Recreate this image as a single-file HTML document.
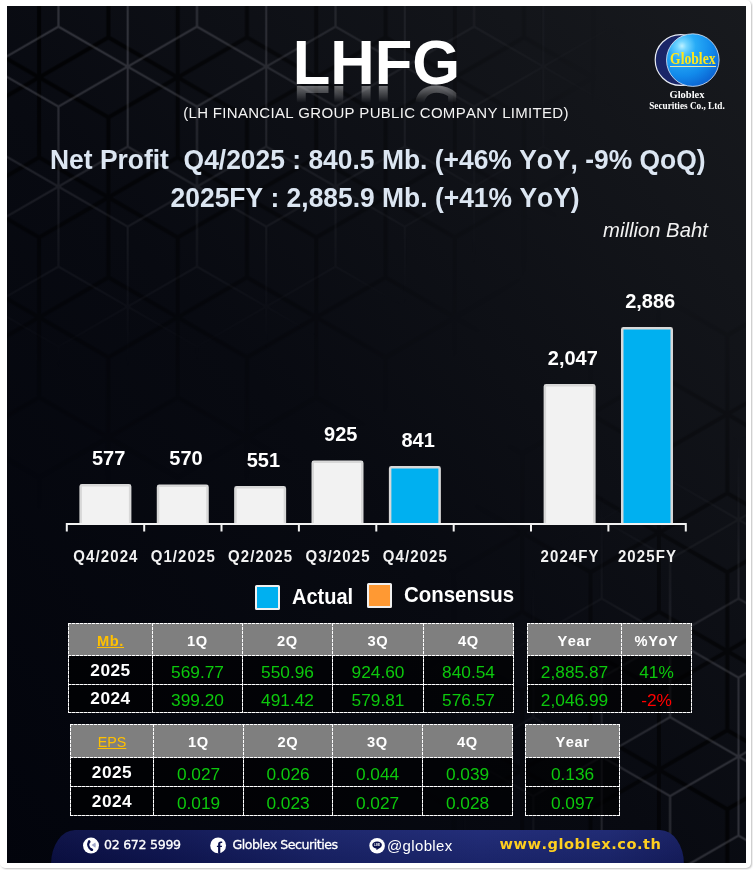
<!DOCTYPE html>
<html lang="en">
<head>
<meta charset="utf-8">
<title>LHFG Net Profit Q4/2025</title>
<style>
html,body{margin:0;padding:0;}
body{width:753px;height:870px;background:#fff;position:relative;overflow:hidden;font-family:"Liberation Sans",sans-serif;font-kerning:none;}
#card{position:absolute;left:0;top:0;width:751px;height:868px;background:#fff;border-radius:5px;box-shadow:1px 1px 2px rgba(0,0,0,.25);}
#panel{position:absolute;left:7px;top:6px;width:739px;height:857px;background:#080a10;overflow:hidden;}
#bg{position:absolute;left:0;top:0;}
#fg{position:absolute;left:0;top:0;width:739px;height:857px;will-change:transform;}
.abs{position:absolute;white-space:nowrap;}
#title{left:0;width:739px;text-align:center;font-weight:bold;color:#fff;font-size:61.5px;line-height:62px;transform:scaleY(1.035);transform-origin:50% 52.3px;}
#refl{left:0;width:739px;text-align:center;font-weight:bold;color:#fff;font-size:61.5px;line-height:62px;transform:translateY(1px) scaleY(-1.035);transform-origin:50% 52.3px;-webkit-mask-image:linear-gradient(0deg,rgba(0,0,0,.42) 15.6%,rgba(0,0,0,0) 43%);mask-image:linear-gradient(0deg,rgba(0,0,0,.42) 15.6%,rgba(0,0,0,0) 43%);}
#sub{color:#f4f4f4;font-size:15px;line-height:16px;letter-spacing:.3px;}
.hl{color:#dce6f2;font-weight:bold;font-size:26.43px;line-height:28px;transform:scaleY(1.035);}
#unit{color:#f2f2f2;font-style:italic;font-size:20.3px;line-height:22px;}
.val{position:absolute;color:#fff;font-weight:bold;font-size:20px;line-height:20px;text-align:center;width:90px;white-space:nowrap;transform:scaleY(1.045);}
.xl{position:absolute;color:#f2f2f2;font-weight:bold;font-size:15px;line-height:16px;text-align:center;width:90px;letter-spacing:1.1px;white-space:nowrap;transform:scaleY(1.13);}
.lg{position:absolute;color:#fff;font-weight:bold;font-size:20px;line-height:22px;white-space:nowrap;transform:scaleY(1.07);transform-origin:50% 75%;}
.sw{position:absolute;box-sizing:border-box;width:25px;height:25px;border:2px solid #f0f0f0;border-radius:1.5px;}
.tb{position:absolute;display:grid;gap:1px;padding:1px;}
.tb i{position:absolute;display:block;}
.tb i.hz{height:1px;left:0;right:0;background:repeating-linear-gradient(90deg,#fff 0,#fff 3px,rgba(255,255,255,.6) 3px,rgba(255,255,255,.6) 4px);}
.tb i.vt{width:1px;top:0;bottom:0;background:repeating-linear-gradient(180deg,#fff 0,#fff 3px,rgba(255,255,255,.6) 3px,rgba(255,255,255,.6) 4px);}
.tb div{background:rgba(0,0,0,.6);color:#0cc80c;font-size:17.3px;display:flex;align-items:center;justify-content:center;white-space:nowrap;box-sizing:border-box;padding-top:4.5px;}
.tb .h{background:#7f7f7f;color:#fff;font-weight:bold;font-size:14.67px;letter-spacing:.6px;padding-top:2.5px;}
.tb .y{color:#fff;font-weight:bold;font-size:17.3px;letter-spacing:.5px;padding-top:0;}
.tb .k{color:#ffc000;text-decoration:underline;}
.tb .e{font-weight:normal;letter-spacing:0;font-size:14.3px;}
.tb .r{color:#ff0000;}
#foot{position:absolute;border-radius:24px 24px 0 0 / 34px 34px 0 0;background:linear-gradient(180deg,rgba(255,255,255,.03),rgba(0,0,0,.12)),linear-gradient(90deg,#090e44 0%,#0d1452 18%,#172168 42%,#1c2774 68%,#1a2570 88%,#141c60 100%);}
.ft{position:absolute;color:#fff;font-family:"DejaVu Sans","Liberation Sans",sans-serif;font-size:12.6px;line-height:14px;white-space:nowrap;letter-spacing:-.3px;-webkit-text-stroke:.3px #fff;}
</style>
</head>
<body>
<div id="card"></div>
<div id="panel">
<svg id="bg" width="739" height="857" viewBox="7 6 739 857">
<defs>
<linearGradient id="base" x1="0" y1="1" x2="1" y2="0"><stop offset="0" stop-color="#02040c"/><stop offset=".45" stop-color="#080a11"/><stop offset="1" stop-color="#181a1e"/></linearGradient>
<radialGradient id="f1" gradientUnits="userSpaceOnUse" cx="0" cy="0" r="1" gradientTransform="translate(90 30) scale(540 340)"><stop offset="0" stop-color="#fff"/><stop offset=".3" stop-color="#fff" stop-opacity=".8"/><stop offset=".55" stop-color="#fff" stop-opacity=".4"/><stop offset=".85" stop-color="#fff" stop-opacity=".12"/><stop offset="1" stop-color="#fff" stop-opacity="0"/></radialGradient>
<radialGradient id="f2" gradientUnits="userSpaceOnUse" cx="0" cy="0" r="1" gradientTransform="translate(780 830) scale(330 400)"><stop offset="0" stop-color="#fff"/><stop offset=".45" stop-color="#fff" stop-opacity=".8"/><stop offset=".75" stop-color="#fff" stop-opacity=".25"/><stop offset="1" stop-color="#fff" stop-opacity="0"/></radialGradient>
<radialGradient id="f1d" gradientUnits="userSpaceOnUse" cx="0" cy="0" r="1" gradientTransform="translate(60 30) scale(540 480)"><stop offset="0" stop-color="#fff"/><stop offset=".5" stop-color="#fff" stop-opacity=".55"/><stop offset="1" stop-color="#fff" stop-opacity="0"/></radialGradient>
<radialGradient id="f2d" gradientUnits="userSpaceOnUse" cx="0" cy="0" r="1" gradientTransform="translate(780 810) scale(370 540)"><stop offset="0" stop-color="#fff"/><stop offset=".5" stop-color="#fff" stop-opacity=".6"/><stop offset="1" stop-color="#fff" stop-opacity="0"/></radialGradient>
<mask id="m1d"><rect x="0" y="0" width="753" height="870" fill="url(#f1d)"/></mask>
<mask id="m2d"><rect x="0" y="0" width="753" height="870" fill="url(#f2d)"/></mask>
<mask id="m1"><rect x="0" y="0" width="753" height="870" fill="url(#f1)"/></mask>
<mask id="m2"><rect x="0" y="0" width="753" height="870" fill="url(#f2)"/></mask>
<pattern id="h1" patternUnits="userSpaceOnUse" width="138.56" height="240" patternTransform="translate(127.7 66.6)"><path d="M0.00 0.00l0.00 -80.00M0.00 0.00l0.00 80.00M0.00 0.00l69.28 40.00M0.00 0.00l69.28 -40.00M0.00 0.00l-69.28 40.00M0.00 0.00l-69.28 -40.00M138.56 0.00l0.00 -80.00M138.56 0.00l0.00 80.00M138.56 0.00l69.28 40.00M138.56 0.00l69.28 -40.00M138.56 0.00l-69.28 40.00M138.56 0.00l-69.28 -40.00M0.00 240.00l0.00 -80.00M0.00 240.00l0.00 80.00M0.00 240.00l69.28 40.00M0.00 240.00l69.28 -40.00M0.00 240.00l-69.28 40.00M0.00 240.00l-69.28 -40.00M138.56 240.00l0.00 -80.00M138.56 240.00l0.00 80.00M138.56 240.00l69.28 40.00M138.56 240.00l69.28 -40.00M138.56 240.00l-69.28 40.00M138.56 240.00l-69.28 -40.00M69.28 120.00l0.00 -80.00M69.28 120.00l0.00 80.00M69.28 120.00l69.28 40.00M69.28 120.00l69.28 -40.00M69.28 120.00l-69.28 40.00M69.28 120.00l-69.28 -40.00" stroke="#9a9aa6" stroke-opacity=".27" stroke-width="2.2" fill="none"/></pattern>
<pattern id="s1" patternUnits="userSpaceOnUse" width="138.56" height="240" patternTransform="translate(177.7 77.4)"><path d="M0.00 0.00l0.00 -80.00M0.00 0.00l0.00 80.00M0.00 0.00l69.28 40.00M0.00 0.00l69.28 -40.00M0.00 0.00l-69.28 40.00M0.00 0.00l-69.28 -40.00M138.56 0.00l0.00 -80.00M138.56 0.00l0.00 80.00M138.56 0.00l69.28 40.00M138.56 0.00l69.28 -40.00M138.56 0.00l-69.28 40.00M138.56 0.00l-69.28 -40.00M0.00 240.00l0.00 -80.00M0.00 240.00l0.00 80.00M0.00 240.00l69.28 40.00M0.00 240.00l69.28 -40.00M0.00 240.00l-69.28 40.00M0.00 240.00l-69.28 -40.00M138.56 240.00l0.00 -80.00M138.56 240.00l0.00 80.00M138.56 240.00l69.28 40.00M138.56 240.00l69.28 -40.00M138.56 240.00l-69.28 40.00M138.56 240.00l-69.28 -40.00M69.28 120.00l0.00 -80.00M69.28 120.00l0.00 80.00M69.28 120.00l69.28 40.00M69.28 120.00l69.28 -40.00M69.28 120.00l-69.28 40.00M69.28 120.00l-69.28 -40.00" stroke="#000" stroke-opacity=".75" stroke-width="4" fill="none"/></pattern>
<pattern id="h2" patternUnits="userSpaceOnUse" width="136.83" height="237" patternTransform="translate(738.5 756.6)"><path d="M0.00 0.00l0.00 -79.00M0.00 0.00l0.00 79.00M0.00 0.00l68.42 39.50M0.00 0.00l68.42 -39.50M0.00 0.00l-68.42 39.50M0.00 0.00l-68.42 -39.50M136.83 0.00l0.00 -79.00M136.83 0.00l0.00 79.00M136.83 0.00l68.42 39.50M136.83 0.00l68.42 -39.50M136.83 0.00l-68.42 39.50M136.83 0.00l-68.42 -39.50M0.00 237.00l0.00 -79.00M0.00 237.00l0.00 79.00M0.00 237.00l68.42 39.50M0.00 237.00l68.42 -39.50M0.00 237.00l-68.42 39.50M0.00 237.00l-68.42 -39.50M136.83 237.00l0.00 -79.00M136.83 237.00l0.00 79.00M136.83 237.00l68.42 39.50M136.83 237.00l68.42 -39.50M136.83 237.00l-68.42 39.50M136.83 237.00l-68.42 -39.50M68.42 118.50l0.00 -79.00M68.42 118.50l0.00 79.00M68.42 118.50l68.42 39.50M68.42 118.50l68.42 -39.50M68.42 118.50l-68.42 39.50M68.42 118.50l-68.42 -39.50" stroke="#9a9aa6" stroke-opacity=".27" stroke-width="2.2" fill="none"/></pattern>
<pattern id="s2" patternUnits="userSpaceOnUse" width="136.83" height="237" patternTransform="translate(658.9 769.7)"><path d="M0.00 0.00l0.00 -79.00M0.00 0.00l0.00 79.00M0.00 0.00l68.42 39.50M0.00 0.00l68.42 -39.50M0.00 0.00l-68.42 39.50M0.00 0.00l-68.42 -39.50M136.83 0.00l0.00 -79.00M136.83 0.00l0.00 79.00M136.83 0.00l68.42 39.50M136.83 0.00l68.42 -39.50M136.83 0.00l-68.42 39.50M136.83 0.00l-68.42 -39.50M0.00 237.00l0.00 -79.00M0.00 237.00l0.00 79.00M0.00 237.00l68.42 39.50M0.00 237.00l68.42 -39.50M0.00 237.00l-68.42 39.50M0.00 237.00l-68.42 -39.50M136.83 237.00l0.00 -79.00M136.83 237.00l0.00 79.00M136.83 237.00l68.42 39.50M136.83 237.00l68.42 -39.50M136.83 237.00l-68.42 39.50M136.83 237.00l-68.42 -39.50M68.42 118.50l0.00 -79.00M68.42 118.50l0.00 79.00M68.42 118.50l68.42 39.50M68.42 118.50l68.42 -39.50M68.42 118.50l-68.42 39.50M68.42 118.50l-68.42 -39.50" stroke="#000" stroke-opacity=".75" stroke-width="4" fill="none"/></pattern>
</defs>
<rect x="0" y="0" width="753" height="870" fill="url(#base)"/>
<rect x="0" y="0" width="753" height="870" fill="url(#s1)" mask="url(#m1d)"/><rect x="0" y="0" width="753" height="870" fill="url(#h1)" mask="url(#m1)"/>
<rect x="0" y="0" width="753" height="870" fill="url(#s2)" mask="url(#m2d)"/><rect x="0" y="0" width="753" height="870" fill="url(#h2)" mask="url(#m2)"/>
</svg>
<div id="fg">
<div class="abs" id="title" style="top:25.7px;">LHFG</div>
<div class="abs" id="refl" aria-hidden="true" style="top:25.7px;">LHFG</div>
<div class="abs" id="sub" style="left:176.3px;top:99px;">(LH FINANCIAL GROUP PUBLIC COMPANY LIMITED)</div>
<div class="abs hl" style="left:43px;top:139.8px;">Net Profit&nbsp; Q4/2025 : 840.5 Mb. (+46% YoY, -9% QoQ)</div>
<div class="abs hl" style="left:163.6px;top:177.8px;">2025FY : 2,885.9 Mb. (+41% YoY)</div>
<div class="abs" id="unit" style="left:596px;top:213px;">million Baht</div>
<svg class="abs" style="left:633px;top:19px;" width="100" height="90" viewBox="640 25 100 90">
<defs><radialGradient id="sp" gradientUnits="userSpaceOnUse" cx="682" cy="46" r="46"><stop offset="0" stop-color="#bff1ff"/><stop offset=".1" stop-color="#74d6ff"/><stop offset=".3" stop-color="#27abf6"/><stop offset=".65" stop-color="#128aeb"/><stop offset="1" stop-color="#0a5ccd"/></radialGradient></defs>
<circle cx="680.6" cy="60" r="25.4" fill="#1a2668" stroke="#e8ecf4" stroke-width="1.2"/>
<circle cx="692.8" cy="60.1" r="26.3" fill="url(#sp)" stroke="#dfe8f6" stroke-opacity=".8" stroke-width="1"/>
<text x="692.8" y="64.2" text-anchor="middle" font-family="'Liberation Serif',serif" font-weight="bold" font-size="14.2" fill="#ffe71a" transform="translate(0 64.2) scale(1 1.15) translate(0 -64.2)" textLength="45.4" lengthAdjust="spacingAndGlyphs">Globlex</text>
<rect x="670" y="66" width="46" height="1" fill="#f3e9a0"/>
<text x="687" y="98.4" text-anchor="middle" font-family="'Liberation Serif',serif" font-weight="bold" font-size="10.5" fill="#fff">Globlex</text>
<text x="687" y="108.8" text-anchor="middle" font-family="'Liberation Serif',serif" font-weight="bold" font-size="9.3" fill="#fff" textLength="75.6" lengthAdjust="spacingAndGlyphs">Securities Co., Ltd.</text>
</svg>
<svg class="abs" style="left:0;top:0;" width="739" height="857" viewBox="7 6 739 857"><defs><clipPath id="cb"><rect x="0" y="0" width="753" height="524"/></clipPath></defs><rect x="80.65" y="485.25" width="49.5" height="44.0" rx="1.2" fill="#f2f2f2" stroke="#d8d8d8" stroke-width="2.5" clip-path="url(#cb)"/><rect x="158.02" y="485.75" width="49.5" height="43.5" rx="1.2" fill="#f2f2f2" stroke="#d8d8d8" stroke-width="2.5" clip-path="url(#cb)"/><rect x="235.39" y="487.25" width="49.5" height="42.0" rx="1.2" fill="#f2f2f2" stroke="#d8d8d8" stroke-width="2.5" clip-path="url(#cb)"/><rect x="312.76" y="461.75" width="49.5" height="67.5" rx="1.2" fill="#f2f2f2" stroke="#d8d8d8" stroke-width="2.5" clip-path="url(#cb)"/><rect x="390.13" y="467.25" width="49.5" height="62.0" rx="1.2" fill="#00b0f0" stroke="#d8d8d8" stroke-width="2.5" clip-path="url(#cb)"/><rect x="544.87" y="385.25" width="49.5" height="144.0" rx="1.2" fill="#f2f2f2" stroke="#d8d8d8" stroke-width="2.5" clip-path="url(#cb)"/><rect x="622.24" y="328.25" width="49.5" height="201.0" rx="1.2" fill="#00b0f0" stroke="#d8d8d8" stroke-width="2.5" clip-path="url(#cb)"/><path d="M65.8 524H686.8M66.8 524v7.5M144.2 524v7.5M221.5 524v7.5M298.9 524v7.5M376.3 524v7.5M453.7 524v7.5M531.0 524v7.5M608.4 524v7.5M685.8 524v7.5" fill="none" stroke="#f2f2f2" stroke-width="2"/></svg>
<div class="val" style="left:56.6px;top:441.7px;">577</div><div class="xl" style="left:53.9px;top:541.6px;">Q4/2024</div><div class="val" style="left:133.97px;top:441.7px;">570</div><div class="xl" style="left:131.27px;top:541.6px;">Q1/2025</div><div class="val" style="left:211.34px;top:443.7px;">551</div><div class="xl" style="left:208.64px;top:541.6px;">Q2/2025</div><div class="val" style="left:288.71px;top:417.7px;">925</div><div class="xl" style="left:286.01px;top:541.6px;">Q3/2025</div><div class="val" style="left:366.08px;top:423.7px;">841</div><div class="xl" style="left:363.38px;top:541.6px;">Q4/2025</div><div class="val" style="left:520.82px;top:341.7px;">2,047</div><div class="xl" style="left:518.12px;top:541.6px;">2024FY</div><div class="val" style="left:598.19px;top:284.7px;">2,886</div><div class="xl" style="left:595.49px;top:541.6px;">2025FY</div>
<div class="sw" style="left:248px;top:579px;background:#00b0f0;"></div>
<div class="lg" style="left:285px;top:580px;">Actual</div>
<div class="sw" style="left:360px;top:577px;background:#ff9933;"></div>
<div class="lg" style="left:397px;top:578px;font-size:20.45px;">Consensus</div>
<div class="tb" style="left:61px;top:617px;grid-template-columns:83px 89px 89px 90px 89px;grid-template-rows:31px 28px 27px;"><div class="h k">Mb.</div><div class="h">1Q</div><div class="h">2Q</div><div class="h">3Q</div><div class="h">4Q</div><div class="y">2025</div><div>569.77</div><div>550.96</div><div>924.60</div><div>840.54</div><div class="y">2024</div><div>399.20</div><div>491.42</div><div>579.81</div><div>576.57</div><i class="hz" style="top:0px"></i><i class="hz" style="top:32px"></i><i class="hz" style="top:61px"></i><i class="hz" style="top:89px"></i><i class="vt" style="left:0px"></i><i class="vt" style="left:84px"></i><i class="vt" style="left:174px"></i><i class="vt" style="left:264px"></i><i class="vt" style="left:355px"></i><i class="vt" style="left:445px"></i></div><div class="tb" style="left:520px;top:617px;grid-template-columns:93px 69px;grid-template-rows:31px 28px 27px;"><div class="h">Year</div><div class="h">%YoY</div><div>2,885.87</div><div>41%</div><div>2,046.99</div><div class="r">-2%</div><i class="hz" style="top:0px"></i><i class="hz" style="top:32px"></i><i class="hz" style="top:61px"></i><i class="hz" style="top:89px"></i><i class="vt" style="left:0px"></i><i class="vt" style="left:94px"></i><i class="vt" style="left:164px"></i></div><div class="tb" style="left:63px;top:718px;grid-template-columns:82px 89px 88px 89px 89px;grid-template-rows:32px 28px 28px;"><div class="h k e">EPS</div><div class="h">1Q</div><div class="h">2Q</div><div class="h">3Q</div><div class="h">4Q</div><div class="y">2025</div><div>0.027</div><div>0.026</div><div>0.044</div><div>0.039</div><div class="y">2024</div><div>0.019</div><div>0.023</div><div>0.027</div><div>0.028</div><i class="hz" style="top:0px"></i><i class="hz" style="top:33px"></i><i class="hz" style="top:62px"></i><i class="hz" style="top:91px"></i><i class="vt" style="left:0px"></i><i class="vt" style="left:83px"></i><i class="vt" style="left:173px"></i><i class="vt" style="left:262px"></i><i class="vt" style="left:352px"></i><i class="vt" style="left:442px"></i></div><div class="tb" style="left:518px;top:718px;grid-template-columns:93px;grid-template-rows:32px 28px 28px;"><div class="h">Year</div><div>0.136</div><div>0.097</div><i class="hz" style="top:0px"></i><i class="hz" style="top:33px"></i><i class="hz" style="top:62px"></i><i class="hz" style="top:91px"></i><i class="vt" style="left:0px"></i><i class="vt" style="left:94px"></i></div>
<div id="foot" style="left:44px;top:823.5px;width:633px;height:40px;"></div>
<svg class="abs" style="left:0;top:824px;" width="739" height="33" viewBox="7 830 739 33">
<circle cx="91" cy="845.6" r="8" fill="#fff"/>
<path d="M89.1 841.5C87.300 844.200 88.200 848.200 91.600 849.800" stroke="#0b114e" stroke-width="2.100" stroke-linecap="round" fill="none"/>
<ellipse cx="89.150" cy="841.800" rx="1.350" ry="1.600" transform="rotate(15 89.150 841.800)" fill="#0b114e"/>
<ellipse cx="91.600" cy="849.600" rx="1.700" ry="1.300" transform="rotate(25 91.600 849.600)" fill="#0b114e"/>
<path d="M91.500 844.900L95.400 842.400Q96.300 845.100 95.400 847.800z" fill="#a2a7ca"/>
<circle cx="218.150" cy="845.400" r="7.900" fill="#fff"/>
<path d="M218.100 853.300V847.100H216.900V845.700H218.100V844.300C218.100 842.500 219.200 841.500 220.800 841.500C221.400 841.500 221.900 841.550 222.200 841.600V843H221.400C220.600 843 220.300 843.400 220.300 844.100V845.700H222.100L221.900 847.100H220.300V853.300Z" fill="#0b114e"/>
<circle cx="377.100" cy="845.700" r="7.800" fill="#fff"/>
<path d="M377.100 841.600c-2.700 0-4.800 1.500-4.800 3.500 0 1.700 1.600 3.100 3.800 3.400.5.100.4.400.3 1-.1.600.3.500 1.400-.2 1.200-.7 4.100-2.100 4.100-4.200 0-2-2.100-3.500-4.800-3.500z" fill="#0b114e"/>
<text x="377.100" y="846.100" text-anchor="middle" font-family="'Liberation Sans',sans-serif" font-weight="bold" font-size="2.700" fill="#fff">LINE</text>
</svg>
<div class="ft" style="left:97px;top:832px;">02 672 5999</div>
<div class="ft" style="left:225.5px;top:832px;letter-spacing:-.48px;">Globlex Securities</div>
<div class="ft" style="left:380px;top:831.6px;font-family:'Liberation Sans',sans-serif;font-size:15px;line-height:16px;letter-spacing:.35px;-webkit-text-stroke:0;">@globlex</div>
<div class="ft" style="left:492.5px;top:830px;color:#ffcf1f;font-weight:bold;font-size:14.6px;line-height:16px;letter-spacing:.5px;-webkit-text-stroke:0;">www.globlex.co.th</div>
</div>
</div>
</body>
</html>
